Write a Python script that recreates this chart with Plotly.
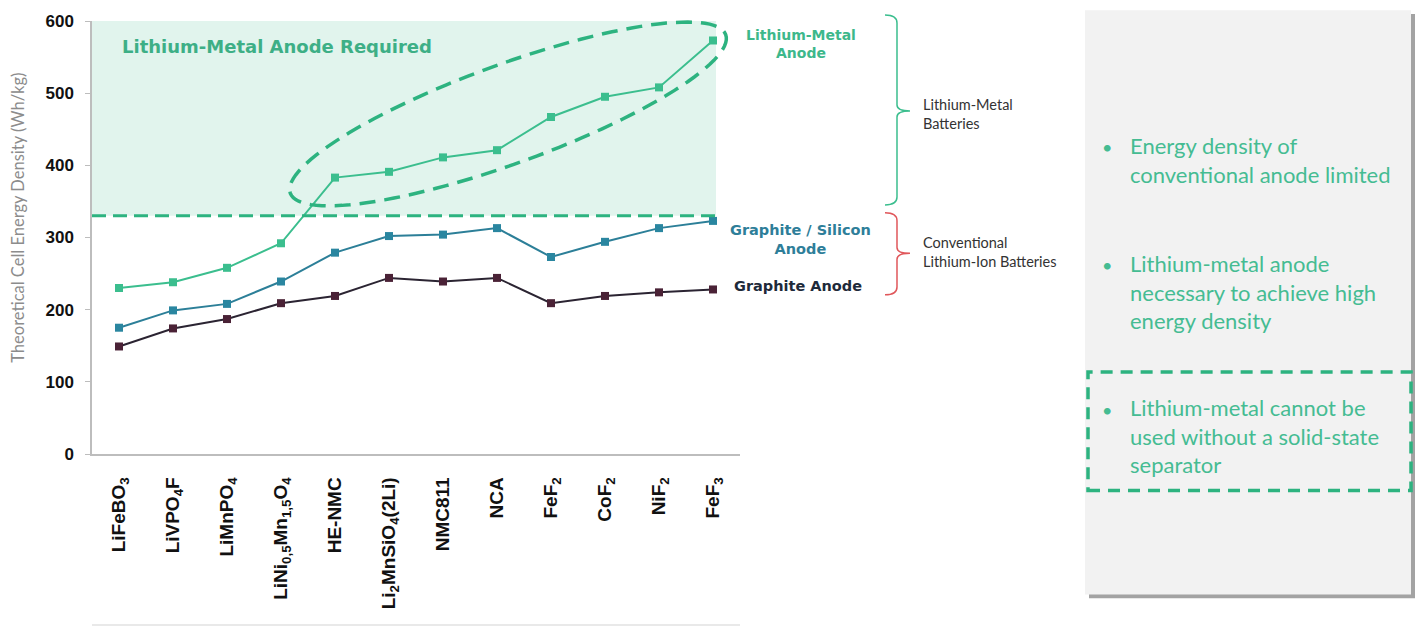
import math
import plotly.graph_objects as go

# Cathode materials along the x axis
categories = ["LiFeBO3", "LiVPO4F", "LiMnPO4", "LiNi0.5Mn1.5O4", "HE-NMC", "Li2MnSiO4(2Li)",
              "NMC811", "NCA", "FeF2", "CoF2", "NiF2", "FeF3"]
tick_labels = ["LiFeBO<sub>3</sub>", "LiVPO<sub>4</sub>F", "LiMnPO<sub>4</sub>",
               "LiNi<sub>0,5</sub>Mn<sub>1,5</sub>O<sub>4</sub>", "HE-NMC",
               "Li<sub>2</sub>MnSiO<sub>4</sub>(2Li)", "NMC811", "NCA",
               "FeF<sub>2</sub>", "CoF<sub>2</sub>", "NiF<sub>2</sub>", "FeF<sub>3</sub>"]

# Theoretical cell energy density (Wh/kg) per anode type
lithium_metal = [230, 238, 258, 292, 383, 391, 411, 421, 467, 495, 508, 573]
graphite_silicon = [175, 199, 208, 239, 279, 302, 304, 313, 273, 294, 313, 323]
graphite = [149, 174, 187, 209, 219, 244, 239, 244, 209, 219, 224, 228]

li_metal_threshold = 330
y_ticks = [0, 100, 200, 300, 400, 500, 600]

GREEN = "#3BBE8E"
TEAL = "#2C7F98"
DARK = "#2B2432"
MAROON = "#4A2236"

W, H = 1422, 628
L, R, T, B = 92, 740, 16, 454  # plot area in pixels


def px(x):
    return (x - L) / (R - L)


def py(y):
    return (B - y) / (B - T)


def path(points):
    return "M " + " L ".join(f"{px(x):.5f},{py(y):.5f}" for x, y in points)


fig = go.Figure()

fig.add_trace(go.Scatter(x=categories, y=lithium_metal, mode="lines+markers",
                         line=dict(color=GREEN, width=2),
                         marker=dict(symbol="square", size=8, color=GREEN),
                         showlegend=False))
fig.add_trace(go.Scatter(x=categories, y=graphite_silicon, mode="lines+markers",
                         line=dict(color=TEAL, width=2),
                         marker=dict(symbol="square", size=8, color="#2A86A0"),
                         showlegend=False))
fig.add_trace(go.Scatter(x=categories, y=graphite, mode="lines+markers",
                         line=dict(color=DARK, width=2),
                         marker=dict(symbol="square", size=8, color=MAROON),
                         showlegend=False))

shapes = []
# shaded lithium-metal zone
shapes.append(dict(type="rect", xref="paper", yref="y", x0=0, x1=px(716),
                   y0=li_metal_threshold, y1=600, fillcolor="#E1F4ED",
                   line=dict(width=0), layer="below"))
# threshold line
shapes.append(dict(type="line", xref="paper", yref="y", x0=0, x1=px(716),
                   y0=li_metal_threshold, y1=li_metal_threshold,
                   line=dict(color="#2DB380", width=3, dash="14px,7px")))
# dashed ellipse around lithium-metal points
cx, cy, a, b = 508, 110, 232, 50
th = math.atan2(-160, 434)
ell = []
for i in range(121):
    t = 2 * math.pi * i / 120
    ex = cx + a * math.cos(t) * math.cos(th) - b * math.sin(t) * math.sin(th)
    ey = cy + a * math.cos(t) * math.sin(th) + b * math.sin(t) * math.cos(th)
    ell.append((ex, ey))
shapes.append(dict(type="path", xref="paper", yref="paper", path=path(ell) + " Z",
                   line=dict(color="#2DB380", width=3.5, dash="16px,9px")))
# bottom rule under the labels
shapes.append(dict(type="line", xref="paper", yref="paper", x0=0, x1=1,
                   y0=py(627), y1=py(627), line=dict(color="#E2E2E2", width=1.5)))


def bracket(top, mid, bottom, color):
    xv, xl, xt = 897, 885, 910
    p = (f"M {px(xl):.5f},{py(top):.5f} Q {px(xv):.5f},{py(top):.5f} {px(xv):.5f},{py(top + 8):.5f} "
         f"L {px(xv):.5f},{py(mid - 6):.5f} Q {px(xv):.5f},{py(mid):.5f} {px(xt):.5f},{py(mid):.5f} "
         f"Q {px(xv):.5f},{py(mid):.5f} {px(xv):.5f},{py(mid + 6):.5f} "
         f"L {px(xv):.5f},{py(bottom - 8):.5f} Q {px(xv):.5f},{py(bottom):.5f} {px(xl):.5f},{py(bottom):.5f}")
    return dict(type="path", xref="paper", yref="paper", path=p, line=dict(color=color, width=1.5))


shapes.append(bracket(10, 107, 202, "#3BBE8E"))
shapes.append(bracket(210, 251, 293, "#E0575B"))

# side panel with shadow
shapes.append(dict(type="rect", xref="paper", yref="paper", x0=px(1089), x1=px(1415),
                   y0=py(600), y1=py(9), fillcolor="#A3A3A3", line=dict(width=0)))
shapes.append(dict(type="rect", xref="paper", yref="paper", x0=px(1085), x1=px(1411),
                   y0=py(596), y1=py(5), fillcolor="#F2F2F2", line=dict(width=0)))
shapes.append(dict(type="rect", xref="paper", yref="paper", x0=px(1088), x1=px(1411),
                   y0=py(491), y1=py(371), line=dict(color="#2DB380", width=3.5, dash="12px,8px")))

ann = []
TXT = "Lato"
WIDE = "DejaVu Sans"


def label(x, y, text, color, size, bold=False, xanchor="left", align="left", family=TXT, angle=0):
    ann.append(dict(x=px(x), y=py(y), xref="paper", yref="paper", text=text, showarrow=False,
                    xanchor=xanchor, yanchor="middle", align=align, textangle=angle,
                    font=dict(family=family, size=size, color=color,
                              weight="bold" if bold else "normal")))


label(120, 42, "Lithium-Metal Anode Required", "#3DAF86", 18, bold=True, family=WIDE)
label(801, 39, "Lithium-Metal<br>Anode", "#3DB88B", 14, bold=True, xanchor="center",
      align="center", family=WIDE)
label(800, 237, "Graphite / Silicon<br>Anode", "#2E7E99", 14.5, bold=True, xanchor="center",
      align="center", family=WIDE)
label(798, 284, "Graphite Anode", "#1E2A3A", 14.5, bold=True, xanchor="center",
      align="center", family=WIDE)
label(921, 110, "Lithium-Metal<br>Batteries", "#333333", 14.5)
label(921, 250, "Conventional<br>Lithium-Ion Batteries", "#333333", 14.5)
label(18, 215, "Theoretical Cell Energy Density (Wh/kg)", "#8C8C8C", 16.5,
      xanchor="center", angle=-90)

BUL = "#45BC92"
FS = 22
label(1107, 143, "•", BUL, 18, xanchor="center")
label(1128, 157, "Energy density of<br>conventional anode limited", BUL, FS)
label(1107, 263, "•", BUL, 18, xanchor="center")
label(1128, 290, "Lithium-metal anode<br>necessary to achieve high<br>energy density", BUL, FS)
label(1107, 409, "•", BUL, 18, xanchor="center")
label(1128, 436, "Lithium-metal cannot be<br>used without a solid-state<br>separator", BUL, FS)

fig.update_layout(
    width=W, height=H, autosize=False,
    margin=dict(l=L, r=W - R, t=T, b=H - B, pad=0),
    paper_bgcolor="white", plot_bgcolor="white",
    shapes=shapes, annotations=ann,
    xaxis=dict(type="category", range=[-0.5, 11.5], tickvals=categories, ticktext=tick_labels,
               tickangle=-90, showgrid=False, zeroline=False, showline=True,
               linecolor="#BDBDBD", linewidth=1.5, ticks="", ticklabelstandoff=14,
               tickfont=dict(family="Liberation Sans", size=19, color="#111111", weight="bold")),
    yaxis=dict(range=[0, 600], tickvals=y_ticks, showgrid=False, zeroline=False, showline=True,
               linecolor="#BDBDBD", linewidth=1.5, ticks="outside", ticklen=5, tickcolor="#BDBDBD",
               ticklabelstandoff=8,
               tickfont=dict(family="Liberation Sans", size=17, color="#111111", weight="bold")),
)

fig.write_html("out.html")
